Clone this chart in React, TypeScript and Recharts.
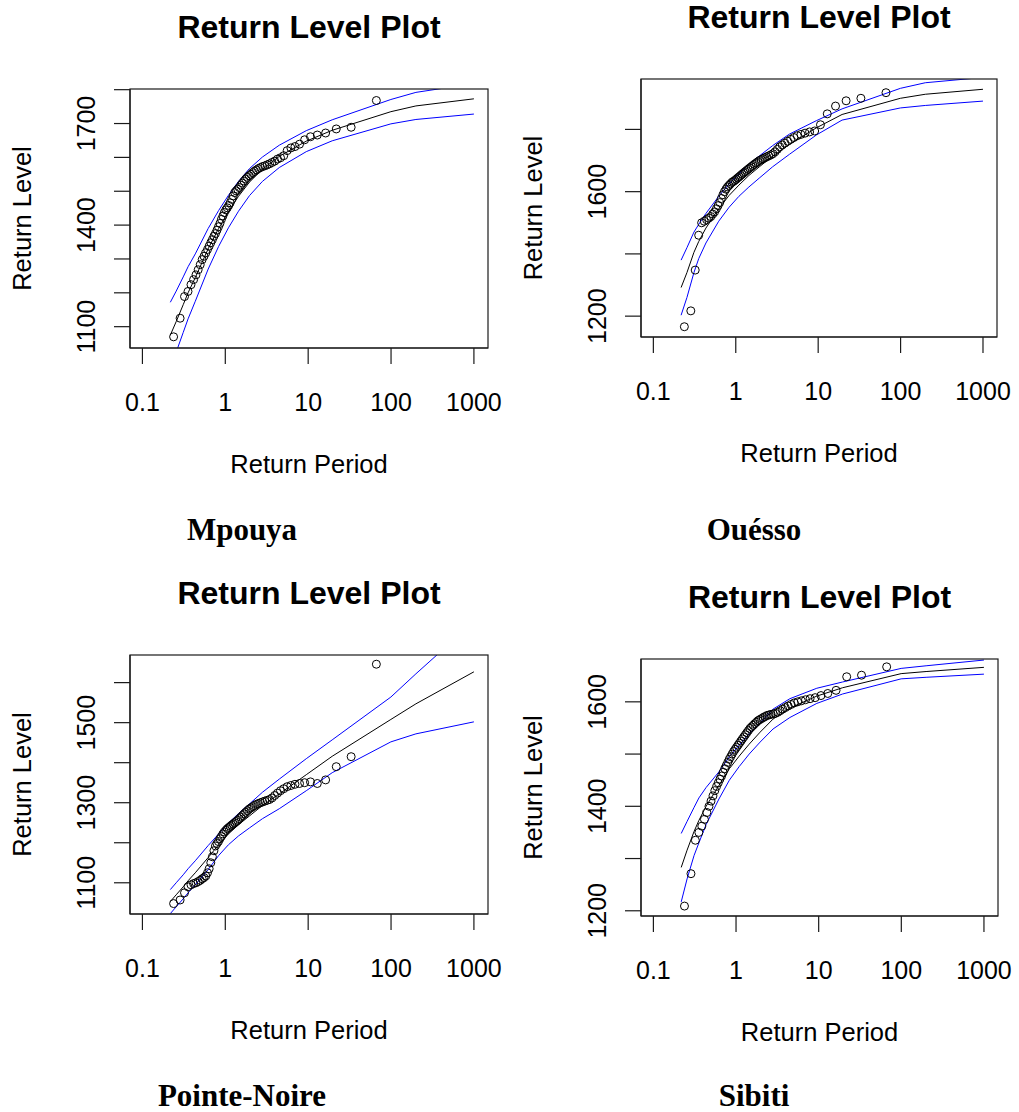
import React from 'react';
import { ComposedChart, Line, Scatter, XAxis, YAxis } from 'recharts';

// Return periods at which the fitted curve and its confidence bounds are drawn
const curvePeriods = [0.2171, 0.2556, 0.3107, 0.3554, 0.4343, 0.6213, 0.8306, 1.0913, 1.4427, 1.9576, 2.8037, 4.4814, 9.4912, 19.496, 99.499, 199.5, 999.5];

// Empirical return periods of the 66 sorted observations
const observedPeriods = [
  0.2378, 0.2848, 0.322, 0.3548, 0.3853, 0.4144, 0.4427, 0.4705, 0.4981, 0.5257,
  0.5535, 0.5815, 0.6099, 0.6387, 0.6682, 0.6983, 0.7291, 0.7609, 0.7935, 0.8271,
  0.8619, 0.8979, 0.9353, 0.9741, 1.0144, 1.0564, 1.1003, 1.1462, 1.1942, 1.2445,
  1.2975, 1.3532, 1.412, 1.4743, 1.5401, 1.6098, 1.6843, 1.7634, 1.8481, 1.9388,
  2.0362, 2.1413, 2.2548, 2.3781, 2.5126, 2.6596, 2.8209, 2.9985, 3.1969, 3.4165,
  3.6643, 3.9448, 4.2662, 4.6361, 5.0684, 5.5772, 6.1843, 6.93, 7.8678, 9.0662,
  10.661, 12.887, 16.234, 21.834, 33.0, 66.5,
];

const xTicks = [0.1, 1, 10, 100, 1000];
const xTickLabels = ['0.1', '1', '10', '100', '1000'];
const xDomain: [number, number] = [0.0708, 1479];

const stationNames = ['Mpouya', 'Ouésso', 'Pointe-Noire', 'Sibiti'];
const plotTitle = 'Return Level Plot';
const xAxisTitle = 'Return Period';
const yAxisTitle = 'Return Level';

// Mpouya
const mpouyaFit = [1075, 1115, 1165, 1200, 1245, 1330, 1390, 1440, 1485, 1527, 1565, 1603, 1648, 1680, 1735, 1752, 1773];
const mpouyaUpper = [1172, 1205, 1247, 1277, 1315, 1390, 1443, 1488, 1529, 1567, 1601, 1636, 1679, 1711, 1771, 1792, 1818];
const mpouyaLower = [978, 1025, 1083, 1123, 1175, 1270, 1337, 1392, 1441, 1487, 1529, 1570, 1617, 1649, 1699, 1712, 1728];
const mpouyaObs = [
  1070, 1125, 1189, 1204, 1224, 1239, 1253, 1268, 1283, 1298,
  1308, 1318, 1328, 1338, 1348, 1357, 1367, 1375, 1385, 1395,
  1405, 1417, 1427, 1437, 1445, 1451, 1458, 1466, 1476, 1486,
  1496, 1501, 1506, 1511, 1518, 1524, 1530, 1536, 1541, 1546,
  1550, 1555, 1559, 1563, 1567, 1570, 1573, 1575, 1578, 1581,
  1585, 1589, 1595, 1599, 1605, 1620, 1628, 1632, 1639, 1652,
  1661, 1666, 1672, 1684, 1689, 1768,
];
const mpouyaYTicks = [1100, 1200, 1300, 1400, 1500, 1600, 1700, 1800];
const mpouyaYLabels = [1100, 1400, 1700];

// Ouesso
const ouessoFit = [1292, 1340, 1405, 1440, 1483, 1545, 1588, 1621, 1652, 1681, 1714, 1752, 1805, 1848, 1900, 1913, 1929];
const ouessoUpper = [1380, 1420, 1470, 1495, 1530, 1585, 1625, 1657, 1688, 1716, 1748, 1785, 1828, 1866, 1932, 1950, 1967];
const ouessoLower = [1203, 1260, 1340, 1385, 1435, 1505, 1550, 1585, 1615, 1645, 1680, 1720, 1782, 1830, 1869, 1877, 1891];
const ouessoObs = [
  1166, 1217, 1348, 1460, 1500, 1505, 1510, 1515, 1520, 1528,
  1535, 1545, 1555, 1565, 1578, 1590, 1600, 1608, 1615, 1620,
  1625, 1630, 1633, 1636, 1640, 1644, 1648, 1652, 1656, 1660,
  1664, 1668, 1672, 1676, 1680, 1684, 1688, 1692, 1696, 1700,
  1703, 1706, 1709, 1712, 1715, 1718, 1722, 1728, 1736, 1744,
  1750, 1756, 1762, 1768, 1774, 1780, 1784, 1788, 1792, 1795,
  1815, 1850, 1875, 1892, 1900, 1918,
];
const ouessoYTicks = [1200, 1400, 1600, 1800];
const ouessoYLabels = [1200, 1600];

// Pointe-Noire
const pnFit = [1053, 1070, 1090, 1105, 1125, 1163, 1195, 1222, 1245, 1267, 1293, 1322, 1370, 1416, 1508, 1547, 1627];
const pnUpper = [1083, 1100, 1120, 1135, 1155, 1193, 1222, 1249, 1273, 1297, 1326, 1359, 1410, 1457, 1564, 1622, 1752];
const pnLower = [1023, 1040, 1060, 1075, 1095, 1133, 1168, 1195, 1217, 1237, 1260, 1285, 1330, 1375, 1452, 1472, 1502];
const pnObs = [
  1048, 1057, 1075, 1090, 1095, 1098, 1100, 1103, 1106, 1110,
  1113, 1117, 1125, 1135, 1150, 1165, 1180, 1192, 1198, 1203,
  1210, 1216, 1222, 1227, 1231, 1235, 1238, 1241, 1244, 1247,
  1250, 1253, 1256, 1260, 1264, 1268, 1272, 1276, 1280, 1284,
  1287, 1290, 1293, 1296, 1298, 1300, 1302, 1304, 1306, 1308,
  1312, 1318, 1324, 1330, 1335, 1340, 1343, 1346, 1348, 1350,
  1352, 1348, 1357, 1390, 1415, 1646,
];
const pnYTicks = [1100, 1200, 1300, 1400, 1500, 1600];
const pnYLabels = [1100, 1300, 1500];

// Sibiti
const sibitiFit = [1283, 1316, 1352, 1373, 1400, 1440, 1472, 1496, 1519, 1542, 1567, 1588, 1611, 1627, 1654, 1658, 1666];
const sibitiUpper = [1348, 1371, 1398, 1416, 1436, 1466, 1495, 1517, 1539, 1560, 1586, 1606, 1626, 1638, 1664, 1669, 1680];
const sibitiLower = [1217, 1261, 1306, 1330, 1365, 1414, 1450, 1476, 1500, 1523, 1548, 1570, 1597, 1615, 1644, 1647, 1653];
const sibitiObs = [
  1209, 1271, 1335, 1350, 1362, 1375, 1388, 1400, 1410, 1420,
  1430, 1438, 1445, 1452, 1458, 1465, 1472, 1478, 1484, 1490,
  1495, 1500, 1505, 1509, 1513, 1517, 1521, 1525, 1529, 1533,
  1537, 1541, 1545, 1549, 1552, 1555, 1558, 1561, 1564, 1566,
  1568, 1570, 1572, 1574, 1575, 1576, 1577, 1578, 1580, 1583,
  1586, 1589, 1592, 1595, 1598, 1600, 1602, 1604, 1606, 1608,
  1612, 1616, 1622, 1648, 1651, 1667,
];
const sibitiYTicks = [1200, 1300, 1400, 1500, 1600];
const sibitiYLabels = [1200, 1400, 1600];

const SANS = '"Liberation Sans", Arial, sans-serif';
const SERIF = '"Liberation Serif", "Times New Roman", serif';
const AXIS_COLOR = '#1a1a1a';

const toPoints = (xs: number[], ys: number[]) => xs.map((x, i) => ({ x, y: ys[i] }));

type Box = { left: number; top: number; right: number; bottom: number };

type PanelProps = {
  cellX: number;
  cellY: number;
  box: Box;
  yDomain: [number, number];
  yTicks: number[];
  yLabels: number[];
  fit: number[];
  upper: number[];
  lower: number[];
  obs: number[];
};

const CELL_W = 509;
const CELL_H = 560;
const X_AXIS_H = 60;

const OpenCircle = (props: any) => {
  const { cx, cy } = props;
  if (cx == null || cy == null) return <g />;
  return <circle cx={cx} cy={cy} r={4} fill="none" stroke="#000" strokeWidth={1} />;
};

const XTick = (props: any) => {
  const { x, y, payload } = props;
  const idx = xTicks.indexOf(payload.value);
  const label = idx >= 0 ? xTickLabels[idx] : String(payload.value);
  return (
    <text x={x} y={y + 37.5} textAnchor="middle" dominantBaseline="central" fontSize={25} fontFamily={SANS} fill="#000">
      {label}
    </text>
  );
};

const makeYTick = (labels: number[]) => (props: any) => {
  const { x, y, payload } = props;
  if (!labels.includes(payload.value)) return <g />;
  const cx = x - 28;
  return (
    <text
      x={cx}
      y={y}
      transform={`rotate(-90, ${cx}, ${y})`}
      textAnchor="middle"
      dominantBaseline="central"
      fontSize={25}
      fontFamily={SANS}
      fill="#000"
    >
      {payload.value}
    </text>
  );
};

const Panel = ({ cellX, cellY, box, yDomain, yTicks, yLabels, fit, upper, lower, obs }: PanelProps) => {
  const margin = {
    top: box.top - cellY,
    right: cellX + CELL_W - box.right,
    bottom: cellY + CELL_H - box.bottom - X_AXIS_H,
    left: 0,
  };
  const axisStroke = { stroke: AXIS_COLOR, strokeWidth: 1.2 };
  return (
    <div style={{ position: 'absolute', left: cellX, top: cellY, width: CELL_W, height: CELL_H }}>
      <ComposedChart width={CELL_W} height={CELL_H} margin={margin}>
        <XAxis
          type="number"
          dataKey="x"
          scale="log"
          domain={xDomain}
          ticks={xTicks}
          allowDataOverflow
          interval={0}
          height={X_AXIS_H}
          tickSize={16}
          tickMargin={0}
          axisLine={axisStroke}
          tickLine={axisStroke}
          tick={XTick}
        />
        <YAxis
          type="number"
          dataKey="y"
          domain={yDomain}
          ticks={yTicks}
          allowDataOverflow
          interval={0}
          width={box.left - cellX}
          tickSize={16}
          tickMargin={0}
          axisLine={axisStroke}
          tickLine={axisStroke}
          tick={makeYTick(yLabels)}
        />
        <Line data={toPoints(curvePeriods, fit)} dataKey="y" type="linear" stroke="#000" strokeWidth={1} dot={false} isAnimationActive={false} />
        <Line data={toPoints(curvePeriods, upper)} dataKey="y" type="linear" stroke="#0000ff" strokeWidth={1} dot={false} isAnimationActive={false} />
        <Line data={toPoints(curvePeriods, lower)} dataKey="y" type="linear" stroke="#0000ff" strokeWidth={1} dot={false} isAnimationActive={false} />
        <Scatter data={toPoints(observedPeriods, obs)} shape={OpenCircle} isAnimationActive={false} />
      </ComposedChart>
    </div>
  );
};

const panels: (PanelProps & { name: string })[] = [
  {
    name: stationNames[0], cellX: 0, cellY: 0,
    box: { left: 130, top: 89, right: 488, bottom: 348 },
    yDomain: [1037, 1802], yTicks: mpouyaYTicks, yLabels: mpouyaYLabels,
    fit: mpouyaFit, upper: mpouyaUpper, lower: mpouyaLower, obs: mpouyaObs,
  },
  {
    name: stationNames[1], cellX: 510, cellY: 0,
    box: { left: 641, top: 79, right: 997, bottom: 337 },
    yDomain: [1133, 1962], yTicks: ouessoYTicks, yLabels: ouessoYLabels,
    fit: ouessoFit, upper: ouessoUpper, lower: ouessoLower, obs: ouessoObs,
  },
  {
    name: stationNames[2], cellX: 0, cellY: 560,
    box: { left: 130, top: 655, right: 488, bottom: 914 },
    yDomain: [1022, 1669], yTicks: pnYTicks, yLabels: pnYLabels,
    fit: pnFit, upper: pnUpper, lower: pnLower, obs: pnObs,
  },
  {
    name: stationNames[3], cellX: 510, cellY: 560,
    box: { left: 641, top: 659, right: 998, bottom: 916 },
    yDomain: [1190, 1682], yTicks: sibitiYTicks, yLabels: sibitiYLabels,
    fit: sibitiFit, upper: sibitiUpper, lower: sibitiLower, obs: sibitiObs,
  },
];

export default function App() {
  return (
    <div style={{ position: 'absolute', left: 0, top: 0, width: 1019, height: 1112, background: '#fff', overflow: 'hidden' }}>
      {panels.map((p) => (
        <Panel key={p.name} {...p} />
      ))}
      <svg width={1019} height={1112} style={{ position: 'absolute', left: 0, top: 0, pointerEvents: 'none' }}>
        {panels.map((p) => {
          const cx = (p.box.left + p.box.right) / 2;
          const cy = (p.box.top + p.box.bottom) / 2;
          const lx = p.box.left - 108.5;
          return (
            <g key={p.name}>
              <rect
                x={p.box.left}
                y={p.box.top}
                width={p.box.right - p.box.left}
                height={p.box.bottom - p.box.top}
                fill="none"
                stroke={AXIS_COLOR}
                strokeWidth={1.2}
              />
              <text x={cx} y={p.box.top - 62} textAnchor="middle" dominantBaseline="central" fontSize={32} fontWeight="bold" fontFamily={SANS} fill="#000">
                {plotTitle}
              </text>
              <text x={cx} y={p.box.bottom + 116} textAnchor="middle" dominantBaseline="central" fontSize={25.5} fontFamily={SANS} fill="#000">
                {xAxisTitle}
              </text>
              <text
                x={lx}
                y={cy}
                transform={`rotate(-90, ${lx}, ${cy})`}
                textAnchor="middle"
                dominantBaseline="central"
                fontSize={25.5}
                fontFamily={SANS}
                fill="#000"
              >
                {yAxisTitle}
              </text>
              <text x={p.cellX === 0 ? 242 : 754} y={p.cellY === 0 ? 540 : 1106} textAnchor="middle" fontSize={31} fontWeight="bold" fontFamily={SERIF} fill="#000">
                {p.name}
              </text>
            </g>
          );
        })}
      </svg>
    </div>
  );
}
